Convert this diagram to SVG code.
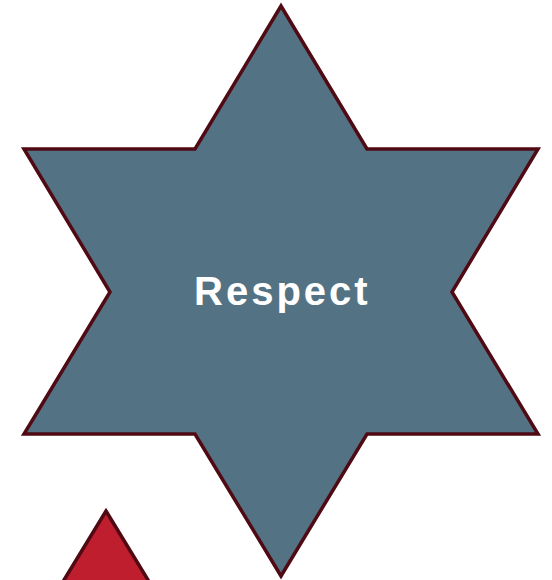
<svg xmlns="http://www.w3.org/2000/svg" width="552" height="580" viewBox="0 0 552 580">
<style>
.shape{stroke:#500A14;stroke-width:3.5;stroke-linejoin:miter}
.lbl{font-family:"Liberation Sans",Arial,sans-serif;font-weight:bold;font-size:40px;fill:#FFFFFF;letter-spacing:3px}
</style>
<rect width="552" height="580" fill="#FFFFFF"/>
<g id="triangle">
<path class="shape" fill="#BE1E2D" d="M106,511 L148,580 L180,633 L32,633 L64,580 Z"/>
</g>
<g id="star">
<path class="shape" fill="#537385" d="M281,6 L367,149 L538,149 L452,292 L538,434 L367,434 L281,576 L195,434 L24,434 L110,292 L24,149 L195,149 Z"/>
<text class="lbl" x="194" y="305">Respect</text>
</g>
</svg>
